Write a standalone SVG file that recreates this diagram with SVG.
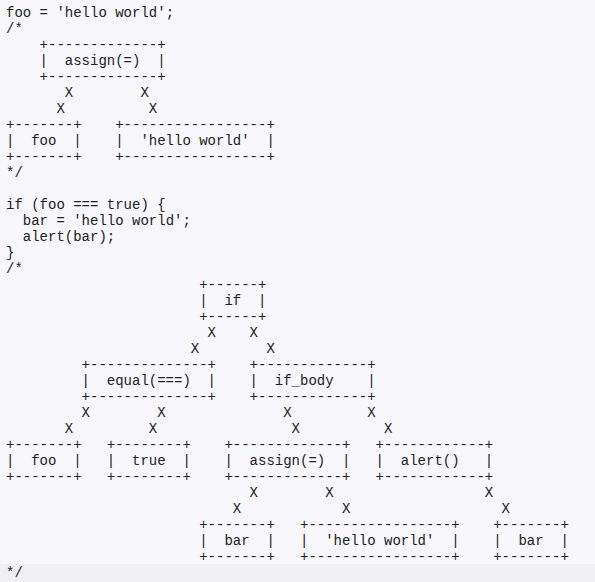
<svg xmlns="http://www.w3.org/2000/svg" width="595" height="582" viewBox="0 0 595 582" xml:space="preserve">
<style>
text{font-family:"Liberation Mono","Courier New",monospace;font-size:14px;fill:#222;white-space:pre}
</style>
<rect x="0" y="0" width="595" height="582" fill="#f8f8fc"/>
<rect x="0" y="564" width="595" height="18" fill="#f0f0f4"/>
<g id="code">
<text x="6" y="17">foo = 'hello world';</text>
<text x="6" y="33">/*</text>
<text x="6" y="177">*/</text>
<text x="6" y="209">if (foo === true) {</text>
<text x="6" y="225">  bar = 'hello world';</text>
<text x="6" y="241">  alert(bar);</text>
<text x="6" y="257">}</text>
<text x="6" y="273">/*</text>
<text x="6" y="577">*/</text>
</g>
<g id="assign1">
<text x="39.6" y="49">+-------------+</text>
<text x="39.6" y="65">|  assign(=)  |</text>
<text x="39.6" y="81">+-------------+</text>
</g>
<g id="foo1">
<text x="6" y="129">+-------+</text>
<text x="6" y="145">|  foo  |</text>
<text x="6" y="161">+-------+</text>
</g>
<g id="hello1">
<text x="115.2" y="129">+-----------------+</text>
<text x="115.2" y="145">|  'hello world'  |</text>
<text x="115.2" y="161">+-----------------+</text>
</g>
<g id="if">
<text x="199.2" y="289">+------+</text>
<text x="199.2" y="305">|  if  |</text>
<text x="199.2" y="321">+------+</text>
</g>
<g id="equal">
<text x="81.6" y="369">+--------------+</text>
<text x="81.6" y="385">|  equal(===)  |</text>
<text x="81.6" y="401">+--------------+</text>
</g>
<g id="if_body">
<text x="249.6" y="369">+-------------+</text>
<text x="249.6" y="385">|  if_body    |</text>
<text x="249.6" y="401">+-------------+</text>
</g>
<g id="foo2">
<text x="6" y="449">+-------+</text>
<text x="6" y="465">|  foo  |</text>
<text x="6" y="481">+-------+</text>
</g>
<g id="true">
<text x="106.8" y="449">+--------+</text>
<text x="106.8" y="465">|  true  |</text>
<text x="106.8" y="481">+--------+</text>
</g>
<g id="assign2">
<text x="224.4" y="449">+-------------+</text>
<text x="224.4" y="465">|  assign(=)  |</text>
<text x="224.4" y="481">+-------------+</text>
</g>
<g id="alert">
<text x="375.6" y="449">+------------+</text>
<text x="375.6" y="465">|  alert()   |</text>
<text x="375.6" y="481">+------------+</text>
</g>
<g id="bar1">
<text x="199.2" y="529">+-------+</text>
<text x="199.2" y="545">|  bar  |</text>
<text x="199.2" y="561">+-------+</text>
</g>
<g id="hello2">
<text x="300" y="529">+-----------------+</text>
<text x="300" y="545">|  'hello world'  |</text>
<text x="300" y="561">+-----------------+</text>
</g>
<g id="bar2">
<text x="493.2" y="529">+-------+</text>
<text x="493.2" y="545">|  bar  |</text>
<text x="493.2" y="561">+-------+</text>
</g>
<g id="connectors">
<text x="64.8" y="97">X</text>
<text x="140.4" y="97">X</text>
<text x="56.4" y="113">X</text>
<text x="148.8" y="113">X</text>
<text x="207.6" y="337">X</text>
<text x="249.6" y="337">X</text>
<text x="190.8" y="353">X</text>
<text x="266.4" y="353">X</text>
<text x="81.6" y="417">X</text>
<text x="157.2" y="417">X</text>
<text x="283.2" y="417">X</text>
<text x="367.2" y="417">X</text>
<text x="64.8" y="433">X</text>
<text x="148.8" y="433">X</text>
<text x="291.6" y="433">X</text>
<text x="384" y="433">X</text>
<text x="249.6" y="497">X</text>
<text x="325.2" y="497">X</text>
<text x="484.8" y="497">X</text>
<text x="232.8" y="513">X</text>
<text x="342" y="513">X</text>
<text x="501.6" y="513">X</text>
</g>
</svg>
